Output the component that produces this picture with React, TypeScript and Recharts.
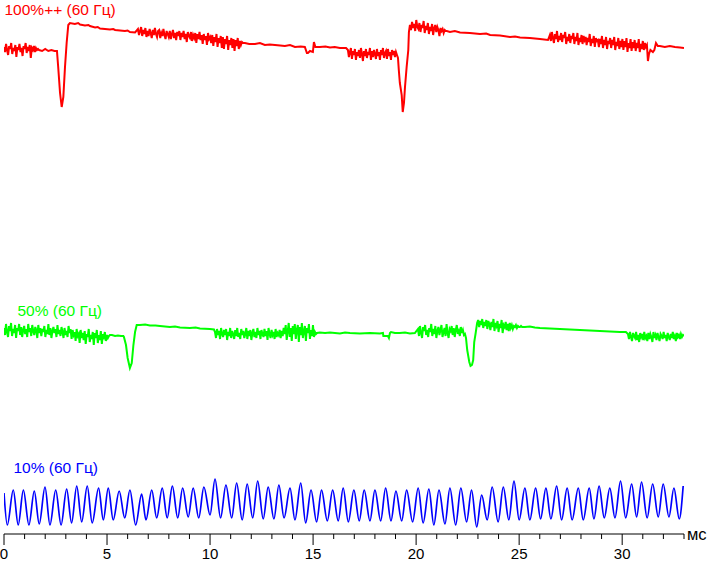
import { Line, LineChart, XAxis, YAxis } from "recharts";

type Pt = [number, number];
type Burst = { from: number; to: number; levels: number[] };
type Row = { t: number; v: number };

// time axis, ms
const msTicks = [
  0, 1, 2, 3, 4, 5, 6, 7, 8, 9, 10, 11, 12, 13, 14, 15, 16, 17, 18, 19, 20, 21, 22, 23, 24, 25, 26, 27,
  28, 29, 30, 31, 32, 33,
];
const unitLabel = "мс";

const seriesNames = ["100%++ (60 Гц)", "50% (60 Гц)", "10% (60 Гц)"];
const seriesColors = ["#ff0000", "#00ff00", "#0000ff"];

// 100%++ trace: calm stretches and edges
const redPoints: Pt[] = [
  [1.7, 484], [1.85, 483], [2.0, 485], [2.15, 483], [2.3, 484], [2.45, 483], [2.57, 483],
  [2.63, 467], [2.72, 441], [2.8, 427], [2.88, 437], [2.96, 467], [3.04, 491], [3.12, 509], [3.2, 511],
  [3.44, 510], [3.6, 511], [3.69, 509.5], [3.93, 508.5], [4.1, 509], [4.17, 508], [4.42, 506.5],
  [4.55, 507], [4.66, 505.5], [4.9, 505], [5.14, 504.5], [5.3, 505], [5.39, 504], [5.63, 503.5],
  [5.87, 503], [6.0, 503.5], [6.11, 502], [6.36, 501.5],
  [11.69, 491], [11.9, 490], [12.18, 490], [12.42, 491], [12.66, 489], [12.9, 489.5], [13.15, 489],
  [13.4, 488.5], [13.63, 488], [13.88, 489], [14.12, 487], [14.4, 487.5], [14.6, 487],
  [14.7, 481], [14.75, 481], [14.85, 483], [14.99, 482], [15.04, 492], [15.11, 487], [15.33, 487],
  [15.6, 487.5], [15.82, 486.5], [16.05, 487], [16.3, 486], [16.6, 486],
  [19.12, 476], [19.16, 464], [19.21, 451], [19.3, 439], [19.35, 422], [19.41, 431], [19.46, 447],
  [19.54, 467], [19.62, 484], [19.65, 502],
  [21.64, 502], [21.88, 503], [22.13, 501.5], [22.61, 501], [23.1, 500], [23.4, 500.5], [23.59, 499],
  [24.07, 498.5], [24.56, 497], [24.8, 497.5], [25.04, 496.5], [25.52, 496], [26.01, 495], [26.4, 494],
  [31.25, 473], [31.3, 480], [31.37, 484], [31.49, 482], [31.56, 484], [31.64, 491], [31.73, 488],
  [31.83, 488], [32.07, 487], [32.31, 488], [32.56, 487], [32.8, 486.5], [33.0, 486],
];

// 100%++ trace: noisy stretches
const redBursts: Burst[] = [
  {
    from: 0, to: 1.65,
    levels: [
      487, 482, 490, 484, 479, 488, 485, 491, 480, 486, 483, 489, 477, 487, 484, 490, 482, 486, 478, 488,
      485, 491, 481, 487, 483, 489, 476, 486, 484, 488, 482, 486, 484, 485,
    ],
  },
  {
    from: 6.5, to: 11.6,
    levels: [
      505, 499, 503, 507, 498, 504, 500, 506, 497, 503,
      498, 505, 501, 496, 504, 499, 506, 500, 497, 503,
      504, 496, 501, 498, 505, 499, 495, 503, 500, 497,
      503, 495, 500, 504, 496, 501, 494, 502, 498, 503,
      494, 501, 497, 503, 495, 500, 492, 502, 498, 496,
      502, 493, 499, 496, 501, 491, 500, 495, 502, 494,
      499, 490, 500, 494, 498, 489, 501, 495, 497, 491,
      499, 488, 497, 492, 500, 487, 496, 491, 498, 486,
      497, 485, 495, 490, 498, 484, 494, 489, 496, 486,
      495, 483, 494, 488, 496, 485, 493, 489, 492, 491,
    ],
  },
  {
    from: 16.69, to: 19.07,
    levels: [
      484, 477, 482, 486, 475, 483, 479, 485, 474, 482,
      478, 484, 476, 486, 480, 473, 483, 478, 485, 476,
      482, 479, 486, 474, 483, 477, 484, 480, 475, 485,
      478, 482, 474, 484, 479, 486, 476, 481, 483, 475,
      485, 478, 482, 474, 484, 479, 483, 477, 482, 479,
    ],
  },
  {
    from: 19.7, to: 21.49,
    levels: [
      509, 504, 512, 506, 510, 503, 514, 507, 505, 511,
      502, 509, 506, 513, 501, 508, 504, 511, 500, 507,
      503, 510, 499, 506, 509, 502, 507, 504, 498, 506,
      503, 505, 501, 504, 503, 503,
    ],
  },
  {
    from: 26.49, to: 31.2,
    levels: [
      499, 493, 502, 496, 491, 500, 495, 503, 492, 498, 494, 501,
      492, 499, 496, 502, 490, 497, 493, 500, 491, 498, 495, 501,
      490, 497, 493, 501, 489, 496, 492, 499, 490, 498, 494, 497,
      489, 496, 492, 500, 488, 495, 491, 498, 487, 496, 493, 494,
      487, 495, 490, 498, 486, 494, 489, 497, 485, 493, 490, 496,
      486, 494, 489, 497, 484, 492, 488, 496, 485, 493, 487, 495,
      484, 493, 487, 496, 482, 491, 486, 495, 483, 492, 486, 494,
      483, 491, 486, 495, 482, 490, 485, 493, 484, 491, 487, 489,
    ],
  },
];

// 50% trace
const greenPoints: Pt[] = [
  [5.24, 199], [5.39, 198], [5.53, 198.5], [5.68, 198], [5.79, 198],
  [5.82, 197], [5.92, 189], [6.0, 176], [6.11, 166], [6.2, 171], [6.28, 189], [6.36, 202], [6.44, 209],
  [6.6, 209], [6.85, 209.5], [7.08, 208.5], [7.35, 208.5], [7.57, 208], [8.05, 207], [8.3, 207.5],
  [8.54, 206.5], [9.02, 206], [9.3, 206.5], [9.51, 205.5], [9.99, 205], [10.19, 204.5],
  [15.33, 201.5], [15.58, 201], [15.82, 201.5], [16.3, 200.5], [16.55, 201.5], [16.79, 201],
  [17.27, 200.5], [17.76, 201], [18.24, 200.5], [18.39, 201],
  [18.41, 198], [18.63, 198], [18.68, 196], [18.73, 201], [18.78, 202], [18.97, 201], [19.21, 201],
  [19.46, 201.5], [19.7, 200.5], [19.94, 201],
  [22.42, 196], [22.48, 184], [22.58, 172], [22.64, 168], [22.71, 169], [22.77, 174], [22.82, 192], [22.89, 201],
  [25.28, 207], [25.52, 207.5], [25.76, 206.5], [26.01, 206], [26.49, 205.5], [26.98, 205], [27.46, 204.5],
  [27.95, 204], [28.43, 203.5], [28.92, 203], [29.4, 202.5], [29.89, 202], [30.18, 202],
];

const greenBursts: Burst[] = [
  {
    from: 0, to: 5.14,
    levels: [
      206, 199, 210, 202, 197, 208, 203, 211, 198, 205,
      201, 209, 196, 206, 203, 210, 199, 207, 197, 204,
      208, 200, 205, 197, 210, 202, 206, 198, 209, 203,
      199, 207, 204, 196, 209, 201, 206, 198, 205, 202,
      208, 197, 204, 200, 210, 199, 206, 196, 203, 207,
      201, 205, 197, 209, 200, 204, 198, 207, 202, 196,
      206, 199, 203, 197, 208, 201, 205, 195, 204, 199,
      202, 193, 205, 198, 200, 191, 204, 196, 201, 194,
      203, 190, 200, 197, 205, 192, 199, 195, 202, 189,
      201, 196, 204, 191, 199, 194, 203, 190, 200, 197,
      202, 193, 199, 196, 198, 199,
    ],
  },
  {
    from: 10.24, to: 15.19,
    levels: [
      202, 196, 205, 199, 203, 195, 206, 200, 197, 204,
      199, 205, 194, 202, 198, 206, 196, 203, 200, 195,
      204, 198, 206, 197, 201, 195, 205, 199, 203, 196,
      200, 206, 195, 203, 198, 204, 194, 201, 205, 197,
      202, 196, 206, 199, 203, 195, 204, 200, 197, 205,
      198, 203, 194, 206, 200, 196, 204, 199, 202, 195,
      205, 197, 201, 199, 204, 196, 203, 198, 206, 200,
      209, 194, 203, 211, 197, 206, 193, 208, 200, 210,
      195, 204, 209, 192, 207, 199, 211, 196, 203, 208,
      193, 206, 201, 210, 195, 204, 198, 209, 197, 202,
      200, 201,
    ],
  },
  {
    from: 20.09, to: 22.37,
    levels: [
      205, 198, 208, 201, 196, 207, 203, 209, 199, 204,
      197, 206, 202, 210, 198, 205, 200, 208, 196, 203,
      207, 199, 204, 209, 197, 202, 206, 198, 210, 201,
      196, 205, 203, 208, 199, 206, 197, 204, 209, 200,
      203, 198, 207, 201, 204, 199, 200,
    ],
  },
  {
    from: 22.96, to: 25.14,
    levels: [
      211, 214, 207, 213, 209, 215, 206, 212, 208, 214,
      205, 213, 210, 204, 212, 207, 215, 203, 211, 208,
      213, 202, 210, 206, 214, 201, 209, 207, 212, 204,
      210, 203, 211, 206, 209, 205, 208, 207, 209, 206,
      208, 207, 207, 208, 207,
    ],
  },
  {
    from: 30.28, to: 33.0,
    levels: [
      200, 195, 202, 197, 193, 201, 198, 196, 202, 194,
      199, 192, 201, 197, 200, 194, 202, 196, 198, 193,
      201, 195, 200, 197, 192, 202, 196, 199, 194, 201,
      197, 193, 200, 198, 195, 202, 196, 199, 193, 201,
      197, 194, 200, 196, 202, 195, 198, 193, 201, 197,
      199, 195, 200, 197, 199, 198,
    ],
  },
];

// 10% trace: peaks and troughs of the ripple
const bluePoints: Pt[] = [
  [0.0, 41], [0.16, 9], [0.45, 44], [0.69, 9], [0.94, 44], [1.21, 9], [1.47, 43], [1.71, 10], [1.99, 47],
  [2.23, 9], [2.51, 44], [2.77, 9], [3.04, 45], [3.28, 11], [3.53, 48], [3.77, 12], [4.04, 48], [4.28, 11],
  [4.59, 46], [4.82, 14], [5.06, 46], [5.3, 14], [5.59, 43], [5.86, 16], [6.11, 44], [6.39, 9], [6.68, 40],
  [6.89, 14], [7.17, 44], [7.41, 16], [7.68, 46], [7.92, 16], [8.17, 48], [8.43, 16], [8.67, 46], [8.94, 17],
  [9.18, 46], [9.45, 16], [9.7, 47], [10.0, 19], [10.24, 55], [10.51, 16], [10.77, 49], [11.05, 16],
  [11.29, 51], [11.56, 14], [11.8, 50], [12.07, 16], [12.31, 53], [12.58, 15], [12.82, 47], [13.1, 15],
  [13.34, 49], [13.59, 16], [13.88, 46], [14.12, 14], [14.4, 51], [14.64, 11], [14.9, 44], [15.17, 12],
  [15.41, 44], [15.69, 13], [15.95, 44], [16.22, 13], [16.46, 46], [16.71, 12], [16.98, 44], [17.24, 13],
  [17.48, 44], [17.76, 13], [18.0, 44], [18.28, 13], [18.52, 46], [18.78, 13], [19.02, 43], [19.3, 13],
  [19.54, 44], [19.83, 12], [20.1, 46], [20.34, 11], [20.62, 45], [20.86, 9], [21.11, 44], [21.4, 10],
  [21.64, 46], [21.92, 9], [22.17, 46], [22.45, 12], [22.69, 44], [22.94, 7], [23.18, 39], [23.45, 14],
  [23.69, 47], [23.98, 12], [24.23, 47], [24.5, 14], [24.75, 53], [25.0, 14], [25.28, 46], [25.52, 14],
  [25.8, 46], [26.04, 15], [26.3, 46], [26.54, 15], [26.82, 48], [27.06, 14], [27.33, 46], [27.57, 14],
  [27.87, 46], [28.11, 14], [28.4, 46], [28.63, 15], [28.88, 48], [29.13, 16], [29.4, 46], [29.65, 16],
  [29.92, 53], [30.17, 16], [30.46, 50], [30.7, 17], [30.94, 52], [31.21, 16], [31.48, 50], [31.75, 17],
  [31.99, 50], [32.27, 17], [32.51, 46], [32.77, 15], [32.96, 48],
];

function buildTrace(points: Pt[], bursts: Burst[]): Row[] {
  const rows: Row[] = points.map(([t, v]) => ({ t, v }));
  bursts.forEach((b) => {
    const step = (b.to - b.from) / (b.levels.length - 1);
    b.levels.forEach((v, i) => rows.push({ t: b.from + i * step, v }));
  });
  return rows.sort((a, b) => a.t - b.t);
}

const redData = buildTrace(redPoints, redBursts);
const greenData = buildTrace(greenPoints, greenBursts);
const blueData = buildTrace(bluePoints, []);

const FONT = "'Liberation Sans', Arial, sans-serif";

function MsTick(props: any) {
  const { x, y, payload } = props;
  const value = payload.value as number;
  const major = value % 5 === 0;
  return (
    <g>
      <line x1={x} x2={x} y1={y} y2={y + (major ? 11 : 5)} stroke="#000" strokeWidth={1} />
      {major && (
        <text x={x} y={y + 24.5} textAnchor="middle" fontFamily={FONT} fontSize={15} fill="#000">
          {value}
        </text>
      )}
      {value === 33 && (
        <text x={x + 3} y={y + 6} fontFamily={FONT} fontSize={16.5} fill="#000">
          {unitLabel}
        </text>
      )}
    </g>
  );
}

export default function App() {
  return (
    <div style={{ position: "relative", width: 711, height: 562, background: "#fff" }}>
      <style>{"body{margin:0}"}</style>
      <LineChart width={711} height={562} margin={{ top: 0, right: 27, bottom: 0, left: 4 }}>
        <XAxis
          dataKey="t"
          type="number"
          domain={[0, 33]}
          ticks={msTicks}
          interval={0}
          allowDataOverflow
          height={28}
          tickLine={false}
          tickSize={0}
          tickMargin={0}
          axisLine={{ stroke: "#000" }}
          tick={(p: any) => <MsTick {...p} />}
        />
        <YAxis hide type="number" domain={[0, 534]} allowDataOverflow />
        <Line data={redData} dataKey="v" type="linear" stroke={seriesColors[0]} strokeWidth={2} dot={false} isAnimationActive={false} />
        <Line data={greenData} dataKey="v" type="linear" stroke={seriesColors[1]} strokeWidth={2} dot={false} isAnimationActive={false} />
        <Line data={blueData} dataKey="v" type="monotone" stroke={seriesColors[2]} strokeWidth={1.7} dot={false} isAnimationActive={false} />
      </LineChart>
      <svg width={711} height={562} style={{ position: "absolute", left: 0, top: 0, pointerEvents: "none" }}>
        <text x={4.5} y={14.5} fontFamily={FONT} fontSize={15.5} fill={seriesColors[0]}>{seriesNames[0]}</text>
        <text x={17.5} y={316} fontFamily={FONT} fontSize={15.5} fill={seriesColors[1]}>{seriesNames[1]}</text>
        <text x={13.5} y={473} fontFamily={FONT} fontSize={15.5} fill={seriesColors[2]}>{seriesNames[2]}</text>
      </svg>
    </div>
  );
}
